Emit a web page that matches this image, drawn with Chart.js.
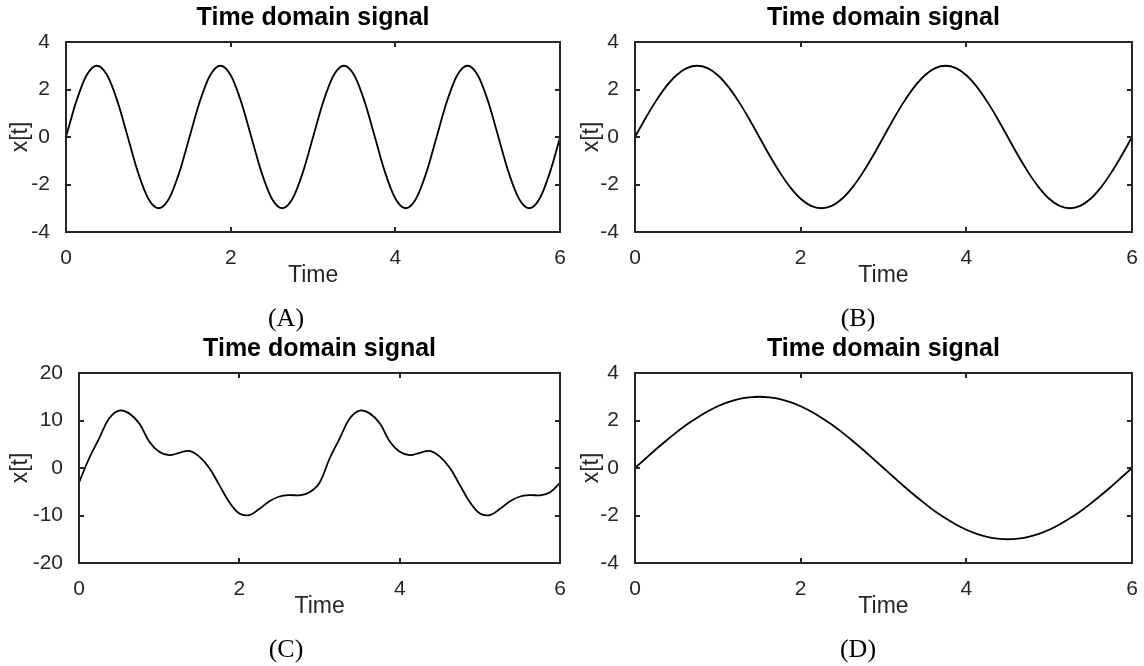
<!DOCTYPE html>
<html>
<head>
<meta charset="utf-8">
<script src="https://cdn.jsdelivr.net/npm/chart.js@4.4.1/dist/chart.umd.min.js"></script>
<style>
  html, body { margin: 0; padding: 0; background: #fff; }
  body { width: 1144px; height: 666px; position: relative; overflow: hidden; }
  canvas { position: absolute; }
</style>
</head>
<body>
<canvas id="chartA" width="572" height="333" style="left:0;top:0"></canvas>
<canvas id="chartB" width="572" height="333" style="left:572px;top:0"></canvas>
<canvas id="chartC" width="572" height="333" style="left:0;top:331px"></canvas>
<canvas id="chartD" width="572" height="333" style="left:572px;top:331px"></canvas>
<script>
// sample times (s)
const time = [0, 0.125, 0.25, 0.375, 0.5, 0.625, 0.75, 0.875, 1, 1.125, 1.25, 1.375, 1.5,
    1.625, 1.75, 1.875, 2, 2.125, 2.25, 2.375, 2.5, 2.625, 2.75, 2.875, 3,
    3.125, 3.25, 3.375, 3.5, 3.625, 3.75, 3.875, 4, 4.125, 4.25, 4.375, 4.5,
    4.625, 4.75, 4.875, 5, 5.125, 5.25, 5.375, 5.5, 5.625, 5.75, 5.875, 6];

// values
const signalA = [0, 1.5, 2.6, 3, 2.6, 1.5, 0, -1.5, -2.6, -3, -2.6, -1.5,
    0, 1.5, 2.6, 3, 2.6, 1.5, 0, -1.5, -2.6, -3, -2.6, -1.5,
    0, 1.5, 2.6, 3, 2.6, 1.5, 0, -1.5, -2.6, -3, -2.6, -1.5,
    0, 1.5, 2.6, 3, 2.6, 1.5, 0, -1.5, -2.6, -3, -2.6, -1.5, 0];
const signalB = [0, 0.78, 1.5, 2.12, 2.6, 2.9, 3, 2.9, 2.6, 2.12, 1.5, 0.78,
    0, -0.78, -1.5, -2.12, -2.6, -2.9, -3, -2.9, -2.6, -2.12, -1.5, -0.78,
    0, 0.78, 1.5, 2.12, 2.6, 2.9, 3, 2.9, 2.6, 2.12, 1.5, 0.78,
    0, -0.78, -1.5, -2.12, -2.6, -2.9, -3, -2.9, -2.6, -2.12, -1.5, -0.78, 0];
const signalC = [-3.1, 2.0, 6.2, 10.4, 12.1, 11.5, 9.4, 5.6, 3.4, 2.7, 3.2, 3.6,
    2.4, 0.0, -3.6, -7.2, -9.6, -9.9, -8.6, -7.0, -6.0, -5.7, -5.75, -5.1,
    -3.1, 2.0, 6.2, 10.4, 12.1, 11.5, 9.4, 5.6, 3.4, 2.7, 3.2, 3.6,
    2.4, 0.0, -3.6, -7.2, -9.6, -9.9, -8.6, -7.0, -6.0, -5.7, -5.75, -5.1, -3.1];
const signalD = [0, 0.39, 0.78, 1.15, 1.5, 1.83, 2.12, 2.38, 2.6, 2.77, 2.9, 2.97,
    3, 2.97, 2.9, 2.77, 2.6, 2.38, 2.12, 1.83, 1.5, 1.15, 0.78, 0.39,
    0, -0.39, -0.78, -1.15, -1.5, -1.83, -2.12, -2.38, -2.6, -2.77, -2.9, -2.97,
    -3, -2.97, -2.9, -2.77, -2.6, -2.38, -2.12, -1.83, -1.5, -1.15, -0.78, -0.39, 0];

const xTicks = [0, 2, 4, 6];
const yTicksSmall = [-4, -2, 0, 2, 4];
const yTicksWide = [-20, -10, 0, 10, 20];

const axisColor = '#262626';
const sans = '"Liberation Sans", Arial, sans-serif';

// box round the plot with inward ticks on all four sides
const framePlugin = {
    id: 'frame',
    afterDatasetsDraw(chart) {
        const { ctx, chartArea: a, scales: { x, y } } = chart;
        const len = 5;
        const l = Math.round(a.left), r = Math.round(a.right);
        const t = Math.round(a.top), b = Math.round(a.bottom);
        ctx.save();
        ctx.strokeStyle = axisColor;
        ctx.lineWidth = 2;
        ctx.beginPath();
        x.ticks.forEach(tk => {
            const px = Math.round(x.getPixelForValue(tk.value));
            ctx.moveTo(px, b); ctx.lineTo(px, b - len);
            ctx.moveTo(px, t); ctx.lineTo(px, t + len);
        });
        y.ticks.forEach(tk => {
            const py = Math.round(y.getPixelForValue(tk.value));
            ctx.moveTo(l, py); ctx.lineTo(l + len, py);
            ctx.moveTo(r, py); ctx.lineTo(r - len, py);
        });
        ctx.stroke();
        ctx.strokeRect(l, t, r - l, b - t);
        ctx.restore();
    }
};

const makePanel = (id, values, yTicks, letter, yWidth, padRight, yTitlePad, smooth) => {
    const ctx = document.getElementById(id).getContext('2d');
    return new Chart(ctx, {
        type: 'line',
        data: {
            datasets: [{
                data: time.map((t, i) => ({ x: t, y: values[i] })),
                borderColor: '#000',
                borderWidth: 1.8,
                pointRadius: 0,
                cubicInterpolationMode: smooth,
                tension: 0.4,
                fill: false,
            }],
        },
        options: {
            responsive: false,
            animation: false,
            layout: { padding: 0 },
            plugins: {
                legend: { display: false },
                tooltip: { enabled: false },
                title: {
                    display: true,
                    text: 'Time domain signal',
                    fullSize: false,
                    color: '#000',
                    font: { family: sans, size: 25, weight: 'bold', lineHeight: 1 },
                    padding: { top: 6, bottom: 11 },
                },
                subtitle: {
                    display: true,
                    position: 'bottom',
                    text: '(' + letter + ')',
                    color: '#000',
                    font: { family: '"Liberation Serif", "Times New Roman", serif', size: 26, lineHeight: 1 },
                    padding: { top: 19, bottom: 1 },
                },
            },
            scales: {
                x: {
                    type: 'linear',
                    min: xTicks[0],
                    max: xTicks[xTicks.length - 1],
                    afterBuildTicks: scale => { scale.ticks = xTicks.map(v => ({ value: v })); },
                    afterFit: scale => { scale.height = 55; },
                    grid: { display: false },
                    border: { display: false },
                    ticks: { color: axisColor, padding: 6, font: { family: sans, size: 21 } },
                    title: {
                        display: true,
                        text: 'Time',
                        color: axisColor,
                        font: { family: sans, size: 23, lineHeight: 1 },
                        padding: 0,
                    },
                },
                y: {
                    min: yTicks[0],
                    max: yTicks[yTicks.length - 1],
                    afterBuildTicks: scale => { scale.ticks = yTicks.map(v => ({ value: v })); },
                    afterFit: scale => { scale.width = yWidth; },
                    grid: { display: false },
                    border: { display: false },
                    ticks: { color: axisColor, padding: 8, font: { family: sans, size: 21 } },
                    title: {
                        display: true,
                        text: 'x[t]',
                        color: axisColor,
                        font: { family: sans, size: 23, lineHeight: 1 },
                        padding: { top: yTitlePad, bottom: 0 },
                    },
                },
                // empty strip on the right so the panel label centres on the whole panel
                yRight: {
                    position: 'right',
                    afterFit: scale => { scale.width = padRight; },
                    grid: { display: false },
                    border: { display: false },
                    ticks: { display: false },
                },
            },
        },
        plugins: [framePlugin],
    });
};

makePanel('chartA', signalA, yTicksSmall, 'A', 66, 10, 9, 'monotone');
makePanel('chartB', signalB, yTicksSmall, 'B', 63, 12, 8, 'monotone');
makePanel('chartC', signalC, yTicksWide, 'C', 79, 10, 9, 'default');
makePanel('chartD', signalD, yTicksSmall, 'D', 63, 12, 8, 'monotone');
</script>
</body>
</html>
